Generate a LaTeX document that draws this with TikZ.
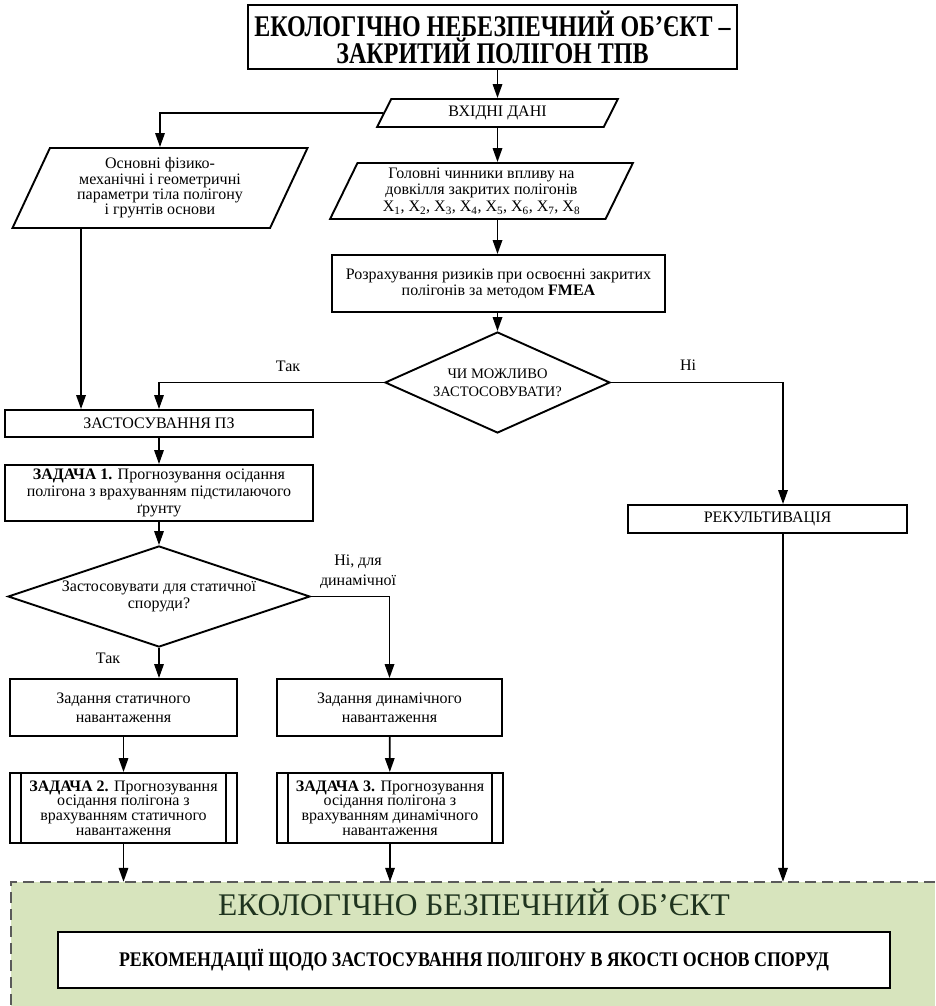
\documentclass[tikz,border=0pt]{standalone}
\usepackage{fontspec}
\setmainfont{Liberation Serif}
\newfontfamily\narrowserif[FakeStretch=0.8]{Liberation Serif}
\newfontfamily\condserif[FakeStretch=0.86]{Liberation Serif}
\usetikzlibrary{arrows.meta, positioning, shapes.geometric, calc}

\definecolor{safegreen}{RGB}{215,228,189}
\definecolor{safetext}{RGB}{31,52,31}
\definecolor{dashgray}{RGB}{90,90,90}

\tikzset{
  box/.style={draw, line width=1.9pt, rectangle, align=center, inner sep=0pt,
    font=\fontsize{16}{16.5}\selectfont},
  iobox/.style={box, trapezium, trapezium left angle=65, trapezium right angle=115,
    trapezium stretches=true},
  choice/.style={box, diamond, aspect=2.2},
  subtask/.style={box, path picture={
      \draw[line width=1.9pt] ([xshift=11pt]path picture bounding box.north west)
        -- ([xshift=11pt]path picture bounding box.south west);
      \draw[line width=1.9pt] ([xshift=-11pt]path picture bounding box.north east)
        -- ([xshift=-11pt]path picture bounding box.south east);}},
  answer/.style={font=\fontsize{16}{20}\selectfont, align=center},
  flow/.style={line width=1.7pt, -{Triangle[length=14pt, width=9.5pt]}},
}

\begin{document}
\begin{tikzpicture}[x=1pt, y=-1pt]
    \useasboundingbox (0,0) rectangle (935,1006);

    % Safe object area
    \node[fill=safegreen, minimum width=924pt, minimum height=124pt, inner sep=0pt] (safe) at (473,944) {};
    \draw[dashgray, line width=1.4pt, dash pattern=on 11pt off 6pt]
        (safe.north east) -- (safe.north west) -- (safe.south west);
    \node[anchor=base, font=\fontsize{31.5}{31.5}\selectfont, text=safetext] (safetitle) at (474,915) {ЕКОЛОГІЧНО БЕЗПЕЧНИЙ ОБ’ЄКТ};
    \node[box, line width=2.2pt, fill=white, minimum width=832pt, minimum height=56pt,
        font=\condserif\bfseries\fontsize{20.8}{20.8}\selectfont] (recom) at (474,960)
        {РЕКОМЕНДАЦІЇ ЩОДО ЗАСТОСУВАННЯ ПОЛІГОНУ В ЯКОСТІ ОСНОВ СПОРУД};

    % Hazardous object and input data
    \node[box, line width=2pt, minimum width=489pt, minimum height=64pt,
        font=\narrowserif\bfseries\fontsize{30}{27}\selectfont] (hazard) at (492.5,37)
        {ЕКОЛОГІЧНО НЕБЕЗПЕЧНИЙ ОБ’ЄКТ –\\ЗАКРИТИЙ ПОЛІГОН ТПВ};
    \node[iobox, minimum width=241pt, minimum height=28pt] (input) at (497.5,113) {ВХІДНІ ДАНІ};
    \node[iobox, minimum width=296pt, minimum height=80pt, font=\fontsize{16}{15.3}\selectfont] (params) at (160,188)
        {Основні фізико-\\механічні і геометричні\\параметри тіла полігону\\і грунтів основи};
    \node[iobox, minimum width=303pt, minimum height=56pt, font=\fontsize{16}{16.7}\selectfont] (factors) at (481.5,191)
        {Головні чинники впливу на\\довкілля закритих полігонів\\X\textsubscript{1}, X\textsubscript{2}, X\textsubscript{3}, X\textsubscript{4}, X\textsubscript{5}, X\textsubscript{6}, X\textsubscript{7}, X\textsubscript{8}};

    % FMEA risks and the first decision
    \node[box, minimum width=333pt, minimum height=57pt, font=\fontsize{16}{15.5}\selectfont] (fmea) at (498.5,283.5)
        {Розрахування ризиків при освоєнні закритих\\полігонів за методом \textbf{FMEA}};
    \node[choice, minimum width=225pt, minimum height=101pt, font=\fontsize{14.5}{18}\selectfont] (canuse) at (497.5,382.5)
        {ЧИ МОЖЛИВО\\ЗАСТОСОВУВАТИ?};
    \node[box, minimum width=279pt, minimum height=28pt] (recult) at (767.5,519) {РЕКУЛЬТИВАЦІЯ};

    % Left branch: tasks
    \node[box, minimum width=308pt, minimum height=27pt] (apply) at (159,423.5) {ЗАСТОСУВАННЯ ПЗ};
    \node[box, minimum width=308pt, minimum height=56pt, font=\fontsize{16}{17}\selectfont] (task1) at (159,493)
        {\textbf{ЗАДАЧА 1.} Прогнозування осідання\\полігона з врахуванням підстилаючого\\ґрунту};
    \node[choice, aspect=3, minimum width=302pt, minimum height=101pt, font=\fontsize{16}{17}\selectfont] (static) at (159,596.5)
        {Застосовувати для статичної\\споруди?};
    \node[box, minimum width=227pt, minimum height=57pt, font=\fontsize{16}{19}\selectfont] (statload) at (123.5,707.5)
        {Задання статичного\\навантаження};
    \node[box, minimum width=225pt, minimum height=57pt, font=\fontsize{16}{19}\selectfont] (dynload) at (389.5,707.5)
        {Задання динамічного\\навантаження};
    \node[subtask, minimum width=227pt, minimum height=70pt, font=\fontsize{16}{14.8}\selectfont] (task2) at (123.5,808)
        {\textbf{ЗАДАЧА 2.} Прогнозування\\осідання полігона з\\врахуванням статичного\\навантаження};
    \node[subtask, minimum width=226pt, minimum height=70pt, font=\fontsize{16}{14.8}\selectfont] (task3) at (390,808)
        {\textbf{ЗАДАЧА 3.} Прогнозування\\осідання полігона з\\врахуванням динамічного\\навантаження};

    % Answers
    \node[answer] (yes1) at (288,366) {Так};
    \node[answer] (no1) at (688,365) {Ні};
    \node[answer] (yes2) at (108,658) {Так};
    \node[answer] (no2) at (358,572) {Ні, для\\динамічної};

    % Connectors
    \draw[flow] (hazard.south -| input.center) -- (input.center |- input.north);
    \draw[flow] (input.left side) -| (params.center |- params.north);
    \draw[flow] (input.center |- input.south) -- (input.center |- factors.north);
    \draw[flow] (input.center |- factors.south) -- (input.center |- fmea.north);
    \draw[flow] (canuse.north |- fmea.south) -- (canuse.north);
    \draw[flow] (canuse.west) -| (apply.north);
    \draw[flow] (canuse.east) -| ([xshift=15.5pt]recult.north);
    \draw[flow] ([xshift=70pt]params.bottom left corner) -- ([xshift=70pt]params.bottom left corner |- apply.north);
    \draw[flow] (apply) -- (task1);
    \draw[flow] (task1) -- (static);
    \draw[flow] (static.south) -- (static.south |- statload.north);
    \draw[flow] (static.east) -| (dynload.north);
    \draw[flow] (statload) -- (task2);
    \draw[flow] (dynload) -- (task3);
    \draw[flow] (task2.south) -- (task2.south |- safe.north);
    \draw[flow] (task3.south) -- (task3.south |- safe.north);
    \draw[flow] ([xshift=15.5pt]recult.south) -- ([xshift=15.5pt]recult.south |- safe.north);
\end{tikzpicture}
\end{document}
